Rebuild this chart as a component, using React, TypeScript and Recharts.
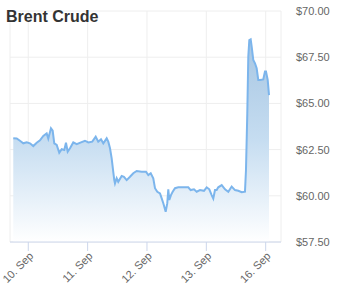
import React from 'react';
import { AreaChart, Area, XAxis, YAxis, CartesianGrid } from 'recharts';

const title = 'Brent Crude';

// trading-time position (days since 10 Sep open, weekend skipped)
const times = [
  -0.253, -0.195, -0.14, -0.084, -0.027, 0.029, 0.084, 0.142, 0.197, 0.253,
  0.31, 0.337, 0.382, 0.411, 0.438, 0.479, 0.522, 0.563, 0.607, 0.635,
  0.664, 0.703, 0.758, 0.816, 0.888, 0.955, 1.011, 1.078, 1.136, 1.179,
  1.225, 1.264, 1.321, 1.348, 1.377, 1.405, 1.432, 1.449, 1.461, 1.489,
  1.516, 1.574, 1.612, 1.658, 1.714, 1.769, 1.826, 1.911, 1.983, 2.022,
  2.063, 2.106, 2.135, 2.174, 2.219, 2.248, 2.275, 2.315, 2.342, 2.359,
  2.376, 2.404, 2.433, 2.472, 2.527, 2.612, 2.696, 2.736, 2.792, 2.837,
  2.893, 2.96, 3.006, 3.05, 3.09, 3.117, 3.146, 3.174, 3.201, 3.259,
  3.315, 3.37, 3.427, 3.483, 3.538, 3.596, 3.651, 3.668, 3.69, 3.707,
  3.724, 3.747, 3.764, 3.791, 3.82, 3.848, 3.875, 3.904, 3.959, 3.988,
  4.005, 4.034, 4.056,
];

const prices = [
  63.11, 63.1, 62.98, 62.84, 62.9, 62.84, 62.69, 62.87, 63.0, 63.24,
  63.38, 63.1, 63.65, 63.52, 62.84, 62.75, 62.33, 62.52, 62.48, 62.87,
  62.39, 62.57, 62.89, 62.79, 62.89, 62.98, 62.89, 62.93, 63.2, 62.93,
  63.06, 62.84, 63.11, 62.93, 62.57, 62.03, 61.3, 60.85, 60.67, 60.95,
  60.76, 61.07, 61.03, 60.85, 61.03, 61.22, 61.34, 61.3, 61.3, 61.12,
  61.22, 60.95, 60.41, 60.22, 60.13, 59.86, 59.6, 59.14, 59.6, 60.35,
  59.77, 60.04, 60.22, 60.41, 60.46, 60.46, 60.46, 60.31, 60.35, 60.22,
  60.31, 60.27, 60.46, 60.35, 60.04, 59.85, 60.31, 60.31, 60.46, 60.58,
  60.35, 60.22, 60.5, 60.31, 60.27, 60.19, 60.22, 61.4, 64.46, 67.53,
  68.43, 68.47, 68.07, 67.35, 67.17, 66.9, 66.27, 66.27, 66.3, 66.72,
  66.72, 66.27, 65.45,
];

const xTickValues = [0, 1, 2, 3, 4];
const xTickLabels = ['10. Sep', '11. Sep', '12. Sep', '13. Sep', '16. Sep'];
const yTickValues = [57.5, 60, 62.5, 65, 67.5, 70];

const data = times.map((t, i) => ({ t, price: prices[i] }));

const FONT = '"Liberation Sans", Arial, Helvetica, sans-serif';

const XTick = (props: any) => {
  const { x, payload } = props;
  const ax = x + 3;
  const ay = 254;
  const idx = xTickValues.indexOf(payload.value);
  return (
    <text
      x={ax}
      y={ay}
      dy="0.35em"
      textAnchor="end"
      transform={`rotate(-45, ${ax}, ${ay})`}
      fill="#666666"
      fontSize={11}
      fontFamily={FONT}
    >
      {idx >= 0 ? xTickLabels[idx] : ''}
    </text>
  );
};

export default function App() {
  return (
    <div style={{ position: 'absolute', left: 0, top: 0, width: 347, height: 302, background: '#fff' }}>
      <div
        style={{
          position: 'absolute',
          left: 6,
          top: 9,
          fontFamily: FONT,
          fontWeight: 'bold',
          fontSize: 16,
          lineHeight: '16px',
          color: '#333333',
          zIndex: 2,
          whiteSpace: 'nowrap',
        }}
      >
        {title}
      </div>
      <AreaChart
        width={347}
        height={302}
        data={data}
        margin={{ top: 11, right: 0, bottom: 0, left: 10 }}
      >
        <defs>
          <linearGradient id="brentFill" x1="0" y1="0" x2="0" y2="1">
            <stop offset="0%" stopColor="#a7c6e2" stopOpacity={1} />
            <stop offset="50%" stopColor="#c6ddf1" stopOpacity={1} />
            <stop offset="100%" stopColor="#ffffff" stopOpacity={1} />
          </linearGradient>
        </defs>
        <CartesianGrid stroke="#eeeeee" strokeWidth={1} />
        <XAxis
          type="number"
          dataKey="t"
          domain={[-0.308, 4.258]}
          ticks={xTickValues}
          allowDataOverflow
          height={60}
          stroke="#ccd6eb"
          tickSize={9}
          tick={<XTick />}
          interval={0}
        />
        <YAxis
          orientation="right"
          width={66}
          domain={[57.5, 70]}
          ticks={yTickValues}
          allowDataOverflow
          axisLine={false}
          tickLine={false}
          tickSize={6}
          tickMargin={9}
          tickFormatter={(v: number) => `$${v.toFixed(2)}`}
          tick={{ fill: '#666666', fontSize: 11, fontFamily: FONT }}
          interval={0}
        />
        <Area
          type="linear"
          dataKey="price"
          stroke="#7cb5ec"
          strokeWidth={2}
          fill="url(#brentFill)"
          fillOpacity={1}
          isAnimationActive={false}
          dot={false}
          activeDot={false}
        />
      </AreaChart>
    </div>
  );
}
